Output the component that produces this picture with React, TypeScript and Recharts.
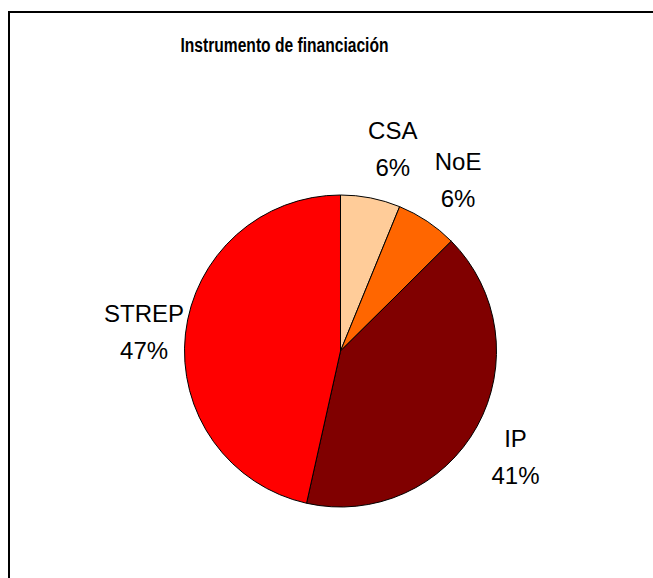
import React from 'react';
import { PieChart, Pie, Cell } from 'recharts';

const categories = ['CSA', 'NoE', 'IP', 'STREP'];
const shares = [6.2, 6.4, 41.0, 46.6];
const colors = ['#FFCC99', '#FF6600', '#800000', '#FF0000'];
const title = 'Instrumento de financiación';

const data = categories.map((name, i) => ({ name, value: shares[i] }));
const total = shares.reduce((a, b) => a + b, 0);

const FONT = '"Liberation Sans", Arial, sans-serif';

const renderLabel = (props: any) => {
  const { cx, cy, midAngle, outerRadius, index } = props;
  const rad = (-midAngle * Math.PI) / 180;
  const dx = Math.cos(rad);
  const dy = Math.sin(rad);
  const name = categories[index];
  const x = cx + dx * (outerRadius + 24) + Math.sign(dx) * 17.5;
  const y = cy + dy * (outerRadius + 54) + 4;
  const pct = Math.round((shares[index] / total) * 100) + '%';
  return (
    <g>
      <text x={x} y={y - 18.5} textAnchor="middle" dominantBaseline="central" fontFamily={FONT} fontSize={24} fill="#000">
        {name}
      </text>
      <text x={x} y={y + 18.5} textAnchor="middle" dominantBaseline="central" fontFamily={FONT} fontSize={24} fill="#000">
        {pct}
      </text>
    </g>
  );
};

export default function App() {
  return (
    <div style={{ position: 'fixed', left: 8, top: 11, width: 645, height: 567, overflow: 'hidden', background: '#fff' }}>
      <div style={{ position: 'absolute', left: 0, top: 0, width: 645, height: 567, borderLeft: '2px solid #000', borderTop: '2px solid #000', boxSizing: 'border-box' }} />
      <svg style={{ position: 'absolute', left: 0, top: 0 }} width={645} height={80}>
        <text x={276.5} y={40.5} textAnchor="middle" fontFamily={FONT} fontWeight="bold" fontSize={19.5} textLength={208} lengthAdjust="spacingAndGlyphs" fill="#000">
          {title}
        </text>
      </svg>
      <div style={{ position: 'absolute', left: 0, top: 0 }}>
        <PieChart width={645} height={567} margin={{ top: 0, right: 0, bottom: 0, left: 0 }}>
          <Pie
            data={data}
            dataKey="value"
            nameKey="name"
            cx={332.5}
            cy={340}
            outerRadius={156}
            startAngle={90}
            endAngle={-270}
            stroke="#000"
            strokeWidth={1}
            label={renderLabel}
            labelLine={false}
            isAnimationActive={false}
          >
            {data.map((d, i) => (
              <Cell key={d.name} fill={colors[i]} />
            ))}
          </Pie>
        </PieChart>
      </div>
    </div>
  );
}
